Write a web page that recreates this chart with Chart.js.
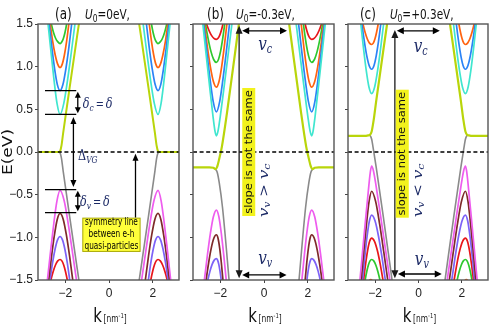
<!DOCTYPE html>
<html><head><meta charset="utf-8">
<script src="https://cdn.jsdelivr.net/npm/chart.js@4/dist/chart.umd.min.js"></script>
<style>
html,body{margin:0;padding:0;background:#fff;width:490px;height:327px;overflow:hidden}
canvas{position:absolute;top:0}
</style></head><body>
<canvas id="ca" width="182" height="327" style="left:0px"></canvas>
<canvas id="cb" width="155" height="327" style="left:182px"></canvas>
<canvas id="cc" width="153" height="327" style="left:337px"></canvas>
<script>
// ---------- tick labels ----------
const xTicks = [-2, 0, 2];
const yTicks = [1.5, 1.0, 0.5, 0.0, -0.5, -1.0, -1.5];
const titles = ['(a)', '(b)', '(c)'];
const u0Values = ['=0eV,', '=-0.3eV,', '=+0.3eV,'];

// ---------- panel (a): U0 = 0 eV ----------
const a_green = [[-2.80,1.69],[-2.64,1.5],[-2.54,1.40],[-2.44,1.33],[-2.34,1.29],[-2.24,1.27],[-2.165,1.29],[-2.09,1.33],[-2.015,1.40],[-1.94,1.5],[-1.82,1.69], null, [1.82,1.69],[1.94,1.5],[2.015,1.40],[2.09,1.33],[2.165,1.29],[2.24,1.27],[2.34,1.29],[2.44,1.33],[2.54,1.40],[2.64,1.5],[2.80,1.69]];
const a_orange = [[-2.87,1.86],[-2.69,1.5],[-2.58,1.30],[-2.465,1.14],[-2.35,1.03],[-2.24,0.99],[-2.14,1.03],[-2.04,1.14],[-1.94,1.30],[-1.84,1.5],[-1.68,1.86], null, [1.68,1.86],[1.84,1.5],[1.94,1.30],[2.04,1.14],[2.14,1.03],[2.24,0.99],[2.35,1.03],[2.465,1.14],[2.58,1.30],[2.69,1.5],[2.87,1.86]];
const a_blue = [[-2.94,1.98],[-2.74,1.5],[-2.615,1.22],[-2.49,0.975],[-2.365,0.79],[-2.24,0.72],[-2.11,0.79],[-1.975,0.975],[-1.84,1.22],[-1.71,1.5],[-1.50,1.98], null, [1.50,1.98],[1.71,1.5],[1.84,1.22],[1.975,0.975],[2.11,0.79],[2.24,0.72],[2.365,0.79],[2.49,0.975],[2.615,1.22],[2.74,1.5],[2.94,1.98]];
const a_cyan = [[-3.01,2.06],[-2.79,1.5],[-2.65,1.16],[-2.515,0.84],[-2.38,0.57],[-2.24,0.44],[-2.07,0.57],[-1.90,0.84],[-1.73,1.16],[-1.56,1.5],[-1.29,2.06], null, [1.29,2.06],[1.56,1.5],[1.73,1.16],[1.90,0.84],[2.07,0.57],[2.24,0.44],[2.38,0.57],[2.515,0.84],[2.65,1.16],[2.79,1.5],[3.01,2.06]];
const a_yellow = [[-3.3,0],[-2.5,0],[-2.3,0],[-2.24,0.01],[-2.18,0.07],[-2.1,0.22],[-1.8,0.76],[-1.38,1.5],[-1.1,1.99], null, [1.1,1.99],[1.38,1.5],[1.8,0.76],[2.1,0.22],[2.18,0.07],[2.24,0.01],[2.3,0],[2.5,0],[3.3,0]];
const a_grey = [[-3.3,0],[-2.5,0],[-2.3,0],[-2.24,-0.01],[-2.18,-0.07],[-2.1,-0.22],[-1.8,-0.76],[-1.38,-1.5],[-1.1,-1.99], null, [1.1,-1.99],[1.38,-1.5],[1.8,-0.76],[2.1,-0.22],[2.18,-0.07],[2.24,-0.01],[2.3,0],[2.5,0],[3.3,0]];
const a_magenta = [[-3.05,-2.05],[-2.82,-1.5],[-2.675,-1.164],[-2.53,-0.845],[-2.385,-0.575],[-2.24,-0.45],[-2.05,-0.575],[-1.865,-0.845],[-1.68,-1.164],[-1.49,-1.5],[-1.19,-2.05], null, [1.19,-2.05],[1.49,-1.5],[1.68,-1.164],[1.865,-0.845],[2.05,-0.575],[2.24,-0.45],[2.385,-0.575],[2.53,-0.845],[2.675,-1.164],[2.82,-1.5],[3.05,-2.05]];
const a_brown = [[-2.97,-1.98],[-2.76,-1.5],[-2.63,-1.22],[-2.50,-0.975],[-2.37,-0.79],[-2.24,-0.72],[-2.095,-0.79],[-1.95,-0.975],[-1.805,-1.22],[-1.66,-1.5],[-1.43,-1.98], null, [1.43,-1.98],[1.66,-1.5],[1.805,-1.22],[1.95,-0.975],[2.095,-0.79],[2.24,-0.72],[2.37,-0.79],[2.50,-0.975],[2.63,-1.22],[2.76,-1.5],[2.97,-1.98]];
const a_purple = [[-2.884,-1.86],[-2.70,-1.5],[-2.585,-1.30],[-2.47,-1.14],[-2.355,-1.03],[-2.24,-0.99],[-2.13,-1.03],[-2.02,-1.14],[-1.91,-1.30],[-1.80,-1.5],[-1.624,-1.86], null, [1.624,-1.86],[1.80,-1.5],[1.91,-1.30],[2.02,-1.14],[2.13,-1.03],[2.24,-0.99],[2.355,-1.03],[2.47,-1.14],[2.585,-1.30],[2.70,-1.5],[2.884,-1.86]];
const a_red = [[-2.83,-1.70],[-2.66,-1.5],[-2.555,-1.40],[-2.45,-1.324],[-2.345,-1.276],[-2.24,-1.26],[-2.1575,-1.276],[-2.075,-1.324],[-1.9925,-1.40],[-1.91,-1.5],[-1.778,-1.70], null, [1.778,-1.70],[1.91,-1.5],[1.9925,-1.40],[2.075,-1.324],[2.1575,-1.276],[2.24,-1.26],[2.345,-1.276],[2.45,-1.324],[2.555,-1.40],[2.66,-1.5],[2.83,-1.70]];

// ---------- panel (b): U0 = -0.3 eV ----------
const b_red = [[-2.81,1.654],[-2.63,1.5],[-2.5175,1.424],[-2.405,1.367],[-2.2925,1.332],[-2.18,1.32],[-2.105,1.332],[-2.03,1.367],[-1.955,1.424],[-1.88,1.5],[-1.76,1.654], null, [1.76,1.654],[1.88,1.5],[1.955,1.424],[2.03,1.367],[2.105,1.332],[2.18,1.32],[2.2925,1.332],[2.405,1.367],[2.5175,1.424],[2.63,1.5],[2.81,1.654]];
const b_green = [[-2.88,1.831],[-2.68,1.5],[-2.555,1.322],[-2.43,1.179],[-2.305,1.084],[-2.18,1.05],[-2.085,1.084],[-1.99,1.179],[-1.895,1.322],[-1.80,1.5],[-1.648,1.831], null, [1.648,1.831],[1.80,1.5],[1.895,1.322],[1.99,1.179],[2.085,1.084],[2.18,1.05],[2.305,1.084],[2.43,1.179],[2.555,1.322],[2.68,1.5],[2.88,1.831]];
const b_orange = [[-2.95,1.964],[-2.73,1.5],[-2.5925,1.232],[-2.455,0.998],[-2.3175,0.826],[-2.18,0.76],[-2.06,0.826],[-1.94,0.998],[-1.82,1.232],[-1.70,1.5],[-1.508,1.964], null, [1.508,1.964],[1.70,1.5],[1.82,1.232],[1.94,0.998],[2.06,0.826],[2.18,0.76],[2.3175,0.826],[2.455,0.998],[2.5925,1.232],[2.73,1.5],[2.95,1.964]];
const b_blue = [[-2.99,2.049],[-2.76,1.5],[-2.615,1.167],[-2.47,0.853],[-2.325,0.59],[-2.18,0.47],[-2.03,0.59],[-1.88,0.853],[-1.73,1.167],[-1.58,1.5],[-1.34,2.049], null, [1.34,2.049],[1.58,1.5],[1.73,1.167],[1.88,0.853],[2.03,0.59],[2.18,0.47],[2.325,0.59],[2.47,0.853],[2.615,1.167],[2.76,1.5],[2.99,2.049]];
const b_cyan = [[-3.05,2.092],[-2.80,1.5],[-2.645,1.132],[-2.49,0.768],[-2.335,0.418],[-2.242,0.241],[-2.18,0.19],[-2.109,0.241],[-2.0025,0.418],[-1.825,0.768],[-1.6475,1.132],[-1.47,1.5],[-1.186,2.092], null, [1.186,2.092],[1.47,1.5],[1.6475,1.132],[1.825,0.768],[2.0025,0.418],[2.109,0.241],[2.18,0.19],[2.242,0.241],[2.335,0.418],[2.49,0.768],[2.645,1.132],[2.80,1.5],[3.05,2.092]];
const b_yellow = [[-3.3,-0.18],[-2.5,-0.18],[-2.32,-0.185],[-2.22,-0.2],[-2.14,-0.17],[-2.05,-0.08],[-1.93,0.06],[-1.7,0.45],[-1.15,1.5],[-0.9,1.98], null, [0.9,1.98],[1.15,1.5],[1.7,0.45],[1.93,0.06],[2.05,-0.08],[2.14,-0.17],[2.22,-0.2],[2.32,-0.185],[2.5,-0.18],[3.3,-0.18]];
const b_grey = [[-2.22,-0.2],[-2.14,-0.24],[-2.05,-0.36],[-1.9,-0.65],[-1.6,-1.5],[-1.45,-1.95], null, [1.45,-1.95],[1.6,-1.5],[1.9,-0.65],[2.05,-0.36],[2.14,-0.24],[2.22,-0.2]];
const b_magenta = [[-2.95,-1.992],[-2.73,-1.5],[-2.5925,-1.212],[-2.455,-0.954],[-2.3175,-0.758],[-2.18,-0.68],[-2.0675,-0.758],[-1.955,-0.954],[-1.8425,-1.212],[-1.73,-1.5],[-1.55,-1.992], null, [1.55,-1.992],[1.73,-1.5],[1.8425,-1.212],[1.955,-0.954],[2.0675,-0.758],[2.18,-0.68],[2.3175,-0.758],[2.455,-0.954],[2.5925,-1.212],[2.73,-1.5],[2.95,-1.992]];
const b_brown = [[-2.838,-1.873],[-2.65,-1.5],[-2.5325,-1.295],[-2.415,-1.126],[-2.2975,-1.011],[-2.18,-0.97],[-2.105,-1.011],[-2.03,-1.126],[-1.955,-1.295],[-1.88,-1.5],[-1.76,-1.873], null, [1.76,-1.873],[1.88,-1.5],[1.955,-1.295],[2.03,-1.126],[2.105,-1.011],[2.18,-0.97],[2.2975,-1.011],[2.415,-1.126],[2.5325,-1.295],[2.65,-1.5],[2.838,-1.873]];
const b_purple = [[-2.726,-1.706],[-2.57,-1.5],[-2.4725,-1.396],[-2.375,-1.317],[-2.2775,-1.267],[-2.18,-1.25],[-2.125,-1.267],[-2.07,-1.317],[-2.015,-1.396],[-1.96,-1.5],[-1.872,-1.706], null, [1.872,-1.706],[1.96,-1.5],[2.015,-1.396],[2.07,-1.317],[2.125,-1.267],[2.18,-1.25],[2.2775,-1.267],[2.375,-1.317],[2.4725,-1.396],[2.57,-1.5],[2.726,-1.706]];

// ---------- panel (c): U0 = +0.3 eV ----------
const c_orange = [[-2.72,1.699],[-2.56,1.5],[-2.46,1.40],[-2.36,1.324],[-2.26,1.276],[-2.16,1.26],[-2.085,1.276],[-2.01,1.324],[-1.935,1.40],[-1.86,1.5],[-1.74,1.699], null, [1.74,1.699],[1.86,1.5],[1.935,1.40],[2.01,1.324],[2.085,1.276],[2.16,1.26],[2.26,1.276],[2.36,1.324],[2.46,1.40],[2.56,1.5],[2.72,1.699]];
const c_blue = [[-2.79,1.873],[-2.61,1.5],[-2.4975,1.295],[-2.385,1.126],[-2.2725,1.011],[-2.16,0.97],[-2.055,1.011],[-1.95,1.126],[-1.845,1.295],[-1.74,1.5],[-1.572,1.873], null, [1.572,1.873],[1.74,1.5],[1.845,1.295],[1.95,1.126],[2.055,1.011],[2.16,0.97],[2.2725,1.011],[2.385,1.126],[2.4975,1.295],[2.61,1.5],[2.79,1.873]];
const c_cyan = [[-2.86,1.99],[-2.66,1.5],[-2.535,1.213],[-2.41,0.956],[-2.285,0.762],[-2.16,0.685],[-2.0225,0.762],[-1.885,0.956],[-1.7475,1.213],[-1.61,1.5],[-1.39,1.99], null, [1.39,1.99],[1.61,1.5],[1.7475,1.213],[1.885,0.956],[2.0225,0.762],[2.16,0.685],[2.285,0.762],[2.41,0.956],[2.535,1.213],[2.66,1.5],[2.86,1.99]];
const c_yellow = [[-3.3,0.19],[-2.45,0.19],[-2.32,0.195],[-2.24,0.2],[-2.16,0.24],[-2.07,0.37],[-1.95,0.6],[-1.45,1.5],[-1.2,1.95], null, [1.2,1.95],[1.45,1.5],[1.95,0.6],[2.07,0.37],[2.16,0.24],[2.24,0.2],[2.32,0.195],[2.45,0.19],[3.3,0.19]];
const c_grey = [[-2.24,0.2],[-2.16,0.15],[-2.08,0.03],[-1.95,-0.18],[-1.6,-0.8],[-1.22,-1.5],[-0.98,-1.94], null, [0.98,-1.94],[1.22,-1.5],[1.6,-0.8],[1.95,-0.18],[2.08,0.03],[2.16,0.15],[2.24,0.2]];
const c_magenta = [[-2.916,-2.094],[-2.70,-1.5],[-2.565,-1.13],[-2.43,-0.763],[-2.295,-0.408],[-2.214,-0.222],[-2.16,-0.165],[-2.076,-0.222],[-1.95,-0.408],[-1.74,-0.763],[-1.53,-1.13],[-1.32,-1.5],[-0.984,-2.094], null, [0.984,-2.094],[1.32,-1.5],[1.53,-1.13],[1.74,-0.763],[1.95,-0.408],[2.076,-0.222],[2.16,-0.165],[2.214,-0.222],[2.295,-0.408],[2.43,-0.763],[2.565,-1.13],[2.70,-1.5],[2.916,-2.094]];
const c_brown = [[-2.832,-2.051],[-2.64,-1.5],[-2.52,-1.165],[-2.40,-0.849],[-2.28,-0.582],[-2.16,-0.46],[-1.975,-0.582],[-1.79,-0.849],[-1.605,-1.165],[-1.42,-1.5],[-1.124,-2.051], null, [1.124,-2.051],[1.42,-1.5],[1.605,-1.165],[1.79,-0.849],[1.975,-0.582],[2.16,-0.46],[2.28,-0.582],[2.40,-0.849],[2.52,-1.165],[2.64,-1.5],[2.832,-2.051]];
const c_purple = [[-2.748,-1.971],[-2.58,-1.5],[-2.475,-1.227],[-2.37,-0.987],[-2.265,-0.809],[-2.16,-0.74],[-2.0025,-0.809],[-1.845,-0.987],[-1.6875,-1.227],[-1.53,-1.5],[-1.278,-1.971], null, [1.278,-1.971],[1.53,-1.5],[1.6875,-1.227],[1.845,-0.987],[2.0025,-0.809],[2.16,-0.74],[2.265,-0.809],[2.37,-0.987],[2.475,-1.227],[2.58,-1.5],[2.748,-1.971]];
const c_red = [[-2.678,-1.852],[-2.53,-1.5],[-2.4375,-1.308],[-2.345,-1.152],[-2.2525,-1.047],[-2.16,-1.01],[-2.03,-1.047],[-1.90,-1.152],[-1.77,-1.308],[-1.64,-1.5],[-1.432,-1.852], null, [1.432,-1.852],[1.64,-1.5],[1.77,-1.308],[1.90,-1.152],[2.03,-1.047],[2.16,-1.01],[2.2525,-1.047],[2.345,-1.152],[2.4375,-1.308],[2.53,-1.5],[2.678,-1.852]];
const c_green = [[-2.58,-1.699],[-2.46,-1.5],[-2.385,-1.40],[-2.31,-1.324],[-2.235,-1.276],[-2.16,-1.26],[-2.065,-1.276],[-1.97,-1.324],[-1.875,-1.40],[-1.78,-1.5],[-1.628,-1.699], null, [1.628,-1.699],[1.78,-1.5],[1.875,-1.40],[1.97,-1.324],[2.065,-1.276],[2.16,-1.26],[2.235,-1.276],[2.31,-1.324],[2.385,-1.40],[2.46,-1.5],[2.58,-1.699]];
const c_orangeV = [[-2.4,-1.58],[-2.3,-1.52],[-2.2,-1.495],[-2.1,-1.52],[-2.0,-1.58], null, [2.0,-1.58],[2.1,-1.52],[2.2,-1.495],[2.3,-1.52],[2.4,-1.58]];

// ---------- styling ----------
const COL = {green:'#2ec82e', orange:'#ff6310', blue:'#2b83f6', cyan:'#40e6cf', yellow:'#b9d50a',
  grey:'#8a8a8a', magenta:'#ee5cee', brown:'#7e2a2a', purple:'#7d62f7', red:'#e8161a'};
const SANS = '"DejaVu Sans", "Liberation Sans", sans-serif';
const SERIF = '"DejaVu Serif", "Liberation Serif", serif';
const MATH = '#1c2a66';
const SX = 0.75;
Chart.defaults.font.family = '"Liberation Sans", "DejaVu Sans", sans-serif';

function splitCurve(arr){
  const out=[]; let cur=[];
  for(const p of arr){ if(p===null){ if(cur.length) out.push(cur); cur=[]; } else cur.push({x:p[0], y:p[1]}); }
  if(cur.length) out.push(cur);
  return out;
}
function minus(s){ return String(s).replace('-', '\u2212'); }

function rich(ctx, parts, x, y, align, color, sx){
  ctx.save(); ctx.fillStyle=color; ctx.textBaseline='alphabetic'; ctx.textAlign='left';
  let w=0; for(const p of parts){ ctx.font=p[1]; w+=ctx.measureText(p[0]).width; }
  const x0 = align==='center' ? x-w*sx/2 : align==='right' ? x-w*sx : x;
  ctx.translate(x0,y); ctx.scale(sx,1);
  let cx=0; for(const p of parts){ ctx.font=p[1]; if(p[3]) ctx.fillStyle=p[3]; ctx.fillText(p[0],cx,p[2]||0); cx+=ctx.measureText(p[0]).width; }
  ctx.restore();
}
function richRot(ctx, parts, cx, cy, color, sCross, base){
  ctx.save(); ctx.translate(cx,cy); ctx.rotate(-Math.PI/2); ctx.scale(1,sCross);
  ctx.fillStyle=color; ctx.textBaseline='alphabetic'; ctx.textAlign='left';
  let w=0; for(const p of parts){ ctx.font=p[1]; w+=ctx.measureText(p[0]).width; }
  let x=-w/2; for(const p of parts){ ctx.font=p[1]; ctx.fillText(p[0],x,(p[2]||0)+base); x+=ctx.measureText(p[0]).width; }
  ctx.restore();
}
function head(ctx,x,y,ux,uy,L,W){
  ctx.beginPath(); ctx.moveTo(x,y);
  ctx.lineTo(x-ux*L-uy*W/2, y-uy*L+ux*W/2);
  ctx.lineTo(x-ux*L+uy*W/2, y-uy*L-ux*W/2);
  ctx.closePath(); ctx.fill();
}
function arrow(ctx,x1,y1,x2,y2,both,L,W,col,lw){
  const d=Math.hypot(x2-x1,y2-y1), ux=(x2-x1)/d, uy=(y2-y1)/d;
  ctx.save(); ctx.strokeStyle=col; ctx.fillStyle=col; ctx.lineWidth=lw;
  ctx.beginPath();
  ctx.moveTo(both? x1+ux*L*0.7 : x1, both? y1+uy*L*0.7 : y1);
  ctx.lineTo(x2-ux*L*0.7, y2-uy*L*0.7); ctx.stroke();
  head(ctx,x2,y2,ux,uy,L,W);
  if(both) head(ctx,x1,y1,-ux,-uy,L,W);
  ctx.restore();
}
function hline(ctx,x1,x2,y,col,lw){ ctx.save(); ctx.strokeStyle=col; ctx.lineWidth=lw; ctx.beginPath(); ctx.moveTo(x1,y); ctx.lineTo(x2,y); ctx.stroke(); ctx.restore(); }

function commonDecor(chart, idx){
  const ctx=chart.ctx, a=chart.chartArea, X=v=>chart.scales.x.getPixelForValue(v), Y=v=>chart.scales.y.getPixelForValue(v);
  ctx.save(); ctx.strokeStyle='#555'; ctx.lineWidth=1.4; ctx.strokeRect(a.left, a.top, a.right-a.left, a.bottom-a.top); ctx.restore();
  const tx = [[-2.47,-1.10],[-2.61,-1.28],[-2.70,-1.32]][idx];
  rich(ctx, [[titles[idx], '15px '+SANS]], X(tx[0]), 19, 'left', '#111', 0.8);
  rich(ctx, [['U','italic 14px '+SANS],['0','10px '+SANS,3],[u0Values[idx],'14px '+SANS]], X(tx[1]), 19, 'left', '#111', SX);
  const cxm = (a.left+a.right)/2 + 1.5;
  rich(ctx, [['k','20px '+SANS],['\u2009[nm','10px '+SANS],['-1','7px '+SANS,-4],[']','10px '+SANS]], cxm, 322, 'center', '#111', SX);
}

function zeroLine(chart){
  const ctx=chart.ctx, a=chart.chartArea, y=chart.scales.y.getPixelForValue(0);
  ctx.save(); ctx.strokeStyle='#000'; ctx.lineWidth=1.7; ctx.setLineDash([4,2.6]);
  ctx.beginPath(); ctx.moveTo(a.left,y); ctx.lineTo(a.right,y); ctx.stroke(); ctx.restore();
}

function decorA(chart){
  const ctx=chart.ctx, X=v=>chart.scales.x.getPixelForValue(v), Y=v=>chart.scales.y.getPixelForValue(v);
  richRot(ctx, [['E(eV)','17px '+SANS]], 7, 152, '#111', 0.8, 6);
  [0.72,0.44,-0.44,-0.71].forEach(e=>hline(ctx, X(-2.93), X(-1.50), Y(e), '#000', 1.3));
  arrow(ctx, X(-1.43), Y(0.705), X(-1.43), Y(0.455), true, 6, 6, '#000', 1.3);
  arrow(ctx, X(-1.43), Y(-0.455), X(-1.43), Y(-0.695), true, 6, 6, '#000', 1.3);
  arrow(ctx, X(-1.63), Y(0.41), X(-1.63), Y(-0.41), true, 7, 6, '#000', 1.3);
  rich(ctx, [['\u03b4','italic 15px '+SERIF],['c','italic 10px '+SERIF,3],['\u2009=\u2009','13px '+SERIF],['\u03b4','italic 15px '+SERIF]], X(-1.2), Y(0.52), 'left', MATH, SX);
  rich(ctx, [['\u03b4','italic 15px '+SERIF],['v','italic 10px '+SERIF,3],['\u2009=\u2009','13px '+SERIF],['\u03b4','italic 15px '+SERIF]], X(-1.33), Y(-0.63), 'left', MATH, SX);
  rich(ctx, [['\u0394','15px '+SERIF],['VG','italic 10px '+SERIF,3]], X(-1.42), Y(-0.09), 'left', MATH, SX);
  arrow(ctx, X(1.21), Y(-0.77), X(1.21), Y(-0.02), false, 7, 6, '#000', 1.3);
  const bx1=X(-1.2), bx2=X(1.42), by1=Y(-0.775), by2=Y(-1.165);
  ctx.save(); ctx.fillStyle='#ffff3a'; ctx.fillRect(bx1,by1,bx2-bx1,by2-by1);
  ctx.strokeStyle='#a8a800'; ctx.lineWidth=1; ctx.strokeRect(bx1,by1,bx2-bx1,by2-by1); ctx.restore();
  const bc = X(0.11);
  rich(ctx, [['symmetry line','10.5px '+SANS]], bc, Y(-0.86), 'center', '#000', 0.7);
  rich(ctx, [['between e-h','10.5px '+SANS]], bc, Y(-0.995), 'center', '#000', 0.7);
  rich(ctx, [['quasi-particles','10.5px '+SANS]], bc, Y(-1.135), 'center', '#000', 0.7);
}

function decorBC(chart, idx){
  const ctx=chart.ctx, X=v=>chart.scales.x.getPixelForValue(v), Y=v=>chart.scales.y.getPixelForValue(v);
  const P = idx===1
    ? {vk:-1.14, vt:1.48, vb:-1.48, t:[-1.0,1.05,1.42], vc:[0.05,1.2], b:[-1.0,1.03,-1.44], vv:[0.05,-1.31], box:[-0.70,0.0], rel:[0.0,-0.45], sym:' > '}
    : {vk:-1.09, vt:1.43, vb:-1.48, t:[-1.0,0.98,1.42], vc:[0.1,1.17], b:[-0.95,1.07,-1.43], vv:[0.15,-1.32], box:[-0.75,-0.02], rel:[-0.03,-0.45], sym:' < '};
  arrow(ctx, X(P.vk), Y(P.vb), X(P.vk), Y(P.vt), true, 8, 7, '#1a1a1a', 1.3);
  arrow(ctx, X(P.t[0]), Y(P.t[2]), X(P.t[1]), Y(P.t[2]), true, 7, 7, '#000', 1.4);
  arrow(ctx, X(P.b[0]), Y(P.b[2]), X(P.b[1]), Y(P.b[2]), true, 7, 7, '#000', 1.4);
  rich(ctx, [['v','italic 19px '+SERIF],['c','italic 12px '+SERIF,3]], X(P.vc[0]), Y(P.vc[1]), 'center', MATH, 0.8);
  rich(ctx, [['v','italic 19px '+SERIF],['v','italic 12px '+SERIF,3]], X(P.vv[0]), Y(P.vv[1]), 'center', MATH, 0.8);
  const cx=X(P.box[0]), cy=Y(P.box[1]);
  ctx.save(); ctx.fillStyle='#f2f21c'; ctx.fillRect(cx-6.5, cy-64, 13, 128); ctx.restore();
  richRot(ctx, [['slope is not the same','11.5px '+SANS]], cx, cy, '#111', 0.85, 3.6);
  richRot(ctx, [['v','italic 17px '+SERIF],['v','italic 11px '+SERIF,3],[P.sym,'15px '+SERIF],['v','italic 17px '+SERIF],['c','italic 11px '+SERIF,3]], X(P.rel[0]), Y(P.rel[1]), MATH, 0.8, 5);
}

function makePanel(id, idx, curves, yw, rp){
  const datasets=[];
  curves.forEach(([arr,color,w])=>splitCurve(arr).forEach(d=>datasets.push({data:d, borderColor:color, borderWidth:w, showLine:true, pointRadius:0, cubicInterpolationMode:'monotone', fill:false})));
  return new Chart(document.getElementById(id), {
    type:'scatter',
    data:{datasets},
    options:{
      responsive:false, animation:false, events:[],
      layout:{padding:{top:24, right:rp, left:0, bottom:0}},
      plugins:{legend:{display:false}, tooltip:{enabled:false}},
      scales:{
        x:{type:'linear', min:-3.25, max:3.2,
           afterBuildTicks:s=>{ s.ticks = xTicks.map(v=>({value:v})); },
           afterFit:s=>{ s.height=47; },
           ticks:{font:{size:12}, color:'#222', padding:3, callback:v=>minus(v)},
           grid:{drawOnChartArea:false, tickLength:3, color:'#444'}, border:{display:false}},
        y:{type:'linear', min:-1.5, max:1.5,
           afterBuildTicks:s=>{ s.ticks = yTicks.map(v=>({value:v})); },
           afterFit:s=>{ s.width=yw; },
           ticks:{display: idx===0, font:{size:12}, color:'#222', padding:2, callback:v=>minus(v.toFixed(1))},
           grid:{drawOnChartArea:false, tickLength:3, color:'#444'}, border:{display:false}}
      }
    },
    plugins:[{id:'decor'+idx,
      afterDatasetsDraw:c=>zeroLine(c),
      afterDraw:c=>{ commonDecor(c, idx); if(idx===0) decorA(c); else decorBC(c, idx); }}]
  });
}

makePanel('ca', 0, [
  [a_yellow,COL.yellow,2],[a_grey,COL.grey,1.6],
  [a_cyan,COL.cyan,1.7],[a_blue,COL.blue,1.7],[a_orange,COL.orange,1.7],[a_green,COL.green,1.7],
  [a_magenta,COL.magenta,1.7],[a_brown,COL.brown,1.7],[a_purple,COL.purple,1.7],[a_red,COL.red,1.7]
], 38, 3);
makePanel('cb', 1, [
  [b_yellow,COL.yellow,2.2],[b_grey,COL.grey,1.6],
  [b_cyan,COL.cyan,1.7],[b_blue,COL.blue,1.7],[b_orange,COL.orange,1.7],[b_green,COL.green,1.7],[b_red,COL.red,1.7],
  [b_magenta,COL.magenta,1.7],[b_brown,COL.brown,1.7],[b_purple,COL.purple,1.7]
], 11, 3);
makePanel('cc', 2, [
  [c_yellow,COL.yellow,2.2],[c_grey,COL.grey,1.6],
  [c_cyan,COL.cyan,1.7],[c_blue,COL.blue,1.7],[c_orange,COL.orange,1.7],
  [c_magenta,COL.magenta,1.7],[c_brown,COL.brown,1.7],[c_purple,COL.purple,1.7],[c_red,COL.red,1.7],[c_green,COL.green,1.7],[c_orangeV,COL.orange,1.7]
], 11, 2);
</script>
</body></html>
